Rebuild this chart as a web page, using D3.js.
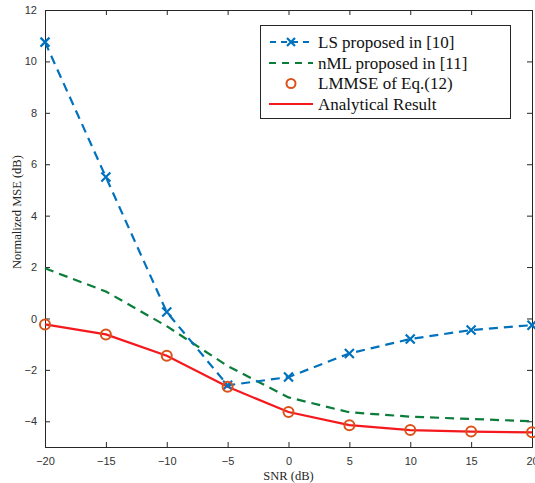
<!DOCTYPE html>
<html>
<head>
<meta charset="utf-8">
<script src="https://cdn.jsdelivr.net/npm/d3@7"></script>
<style>
  body { margin: 0; background: #fff; }
  svg { display: block; }
  .tick text { font-family: "Liberation Sans", Arial, sans-serif; font-size: 11px; fill: #333; }
</style>
</head>
<body>
<div id="chart"></div>
<script>
// data
const snr = [-20, -15, -10, -5, 0, 5, 10, 15, 20];
const lsVals = [10.75, 5.5, 0.25, -2.6, -2.28, -1.36, -0.8, -0.45, -0.26];
const nmlVals = [1.95, 1.05, -0.3, -1.85, -3.07, -3.65, -3.82, -3.91, -4.0];
const lmmseVals = [-0.23, -0.62, -1.45, -2.66, -3.64, -4.15, -4.34, -4.4, -4.43];
const analyticVals = [-0.23, -0.62, -1.45, -2.66, -3.64, -4.15, -4.34, -4.4, -4.43];
const xTicks = [-20, -15, -10, -5, 0, 5, 10, 15, 20];
const yTicks = [-4, -2, 0, 2, 4, 6, 8, 10, 12];
const legendLabels = ["LS proposed in [10]", "nML proposed in [11]", "LMMSE of Eq.(12)", "Analytical Result"];

const width = 535, height = 483;
const margin = { top: 10, right: 3, bottom: 36, left: 45 };

const svg = d3.select('#chart').append('svg')
  .attr('width', width)
  .attr('height', height);

const x = d3.scaleLinear().domain([-20, 20]).range([margin.left, width - margin.right]);
const y = d3.scaleLinear().domain([-5, 12]).range([height - margin.bottom, margin.top]);

const axisColor = '#262626';

// axes (ticks inward, box around)
const gx = svg.append('g').attr('transform', `translate(0,${y(-5)})`)
  .call(d3.axisBottom(x).tickValues(xTicks).tickSize(-5).tickPadding(10).tickFormat(d3.format('d')));
const gxTop = svg.append('g').attr('transform', `translate(0,${y(12)})`)
  .call(d3.axisTop(x).tickValues(xTicks).tickSize(-5).tickFormat(''));
const gy = svg.append('g').attr('transform', `translate(${x(-20)},0)`)
  .call(d3.axisLeft(y).tickValues(yTicks).tickSize(-5).tickPadding(8).tickFormat(d3.format('d')));
const gyRight = svg.append('g').attr('transform', `translate(${x(20)},0)`)
  .call(d3.axisRight(y).tickValues(yTicks).tickSize(-5).tickFormat(''));

[gx, gxTop, gy, gyRight].forEach(g => {
  g.select('.domain').attr('stroke', axisColor).attr('stroke-width', 1);
  g.selectAll('.tick line').attr('stroke', axisColor);
});

// axis labels
svg.append('text')
  .attr('x', (x(-20) + x(20)) / 2).attr('y', 480)
  .attr('text-anchor', 'middle')
  .style('font-family', '"Liberation Serif", "Times New Roman", serif')
  .style('font-size', '12.5px').attr('fill', axisColor)
  .text('SNR (dB)');
svg.append('text')
  .attr('transform', `translate(21,269) rotate(-90)`)
  .attr('text-anchor', 'start')
  .style('font-family', '"Liberation Serif", "Times New Roman", serif')
  .style('font-size', '12.5px').attr('fill', axisColor)
  .text('Normalized MSE (dB)');

const colLS = '#0072BD', colNML = '#0A7D3B', colLMMSE = '#D95319', colAn = '#F5191E';

const line = vals => d3.line().x((d, i) => x(snr[i])).y(d => y(d))(vals);

svg.append('path').attr('d', line(nmlVals))
  .attr('fill', 'none').attr('stroke', colNML).attr('stroke-width', 2.2).attr('stroke-dasharray', '9,6');
svg.append('path').attr('d', line(lsVals))
  .attr('fill', 'none').attr('stroke', colLS).attr('stroke-width', 2.2).attr('stroke-dasharray', '9,6');
svg.append('path').attr('d', line(analyticVals))
  .attr('fill', 'none').attr('stroke', colAn).attr('stroke-width', 2.2);

// x markers for LS
const xMark = (g, cx, cy, s) => {
  g.append('path')
    .attr('d', `M${cx - s},${cy - s}L${cx + s},${cy + s}M${cx - s},${cy + s}L${cx + s},${cy - s}`)
    .attr('stroke', colLS).attr('stroke-width', 2.2).attr('fill', 'none');
};
const lsMarks = svg.append('g');
lsVals.forEach((v, i) => xMark(lsMarks, x(snr[i]), y(v), 4.5));

// circle markers for LMMSE
svg.append('g').selectAll('circle')
  .data(lmmseVals)
  .enter().append('circle')
  .attr('cx', (d, i) => x(snr[i]))
  .attr('cy', d => y(d))
  .attr('r', 5)
  .attr('fill', 'none')
  .attr('stroke', colLMMSE)
  .attr('stroke-width', 2);

// legend
const lg = svg.append('g');
lg.append('rect')
  .attr('x', 260.5).attr('y', 25.5).attr('width', 250).attr('height', 93)
  .attr('fill', '#fff').attr('stroke', axisColor).attr('stroke-width', 1);
const rowY = [42, 63, 83.5, 104];
const lx0 = 269, lx1 = 313;
legendLabels.forEach((t, i) => {
  lg.append('text')
    .attr('x', 318).attr('y', rowY[i] + 5.5)
    .style('font-family', '"Liberation Serif", "Times New Roman", serif')
    .style('font-size', '17px').attr('fill', '#111')
    .text(t);
});
lg.append('line').attr('x1', lx0).attr('x2', lx1).attr('y1', rowY[0]).attr('y2', rowY[0])
  .attr('stroke', colLS).attr('stroke-width', 2.2).attr('stroke-dasharray', '6,5').attr('stroke-dashoffset', -1);
xMark(lg, (lx0 + lx1) / 2, rowY[0], 4);
lg.append('line').attr('x1', lx0).attr('x2', lx1).attr('y1', rowY[1]).attr('y2', rowY[1])
  .attr('stroke', colNML).attr('stroke-width', 2.2).attr('stroke-dasharray', '7,6');
lg.append('circle').attr('cx', (lx0 + lx1) / 2).attr('cy', rowY[2]).attr('r', 4.5)
  .attr('fill', 'none').attr('stroke', colLMMSE).attr('stroke-width', 2);
lg.append('line').attr('x1', lx0).attr('x2', lx1).attr('y1', rowY[3]).attr('y2', rowY[3])
  .attr('stroke', colAn).attr('stroke-width', 2.2);
</script>
</body>
</html>
